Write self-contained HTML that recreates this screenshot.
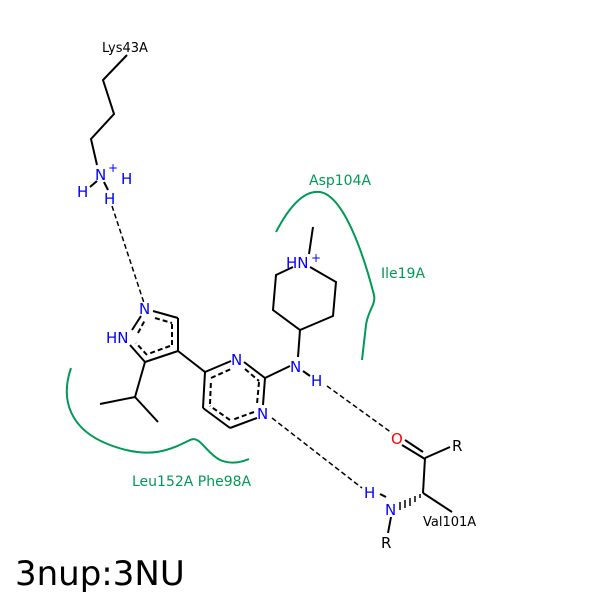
<!DOCTYPE html>
<html><head><style>body{margin:0;background:#fff}svg{display:block}text{font-family:"DejaVu Sans","Liberation Sans",sans-serif}</style></head>
<body>
<svg width="600" height="600" viewBox="0 0 600 600" xmlns="http://www.w3.org/2000/svg">
<rect width="600" height="600" fill="#fff"/>
<g fill="none" stroke="#009955" stroke-width="2">
<path d="M276,232 C290,205 305,190 320,192 C345,196 365,260 374,295 C376,305 368,310 366,325 L362,360"/>
<path d="M71,368 C60,400 70,430 110,445 C150,460 170,450 190,440 C200,435 205,452 220,460 C232,465 242,462 249,459"/>
</g>
<g stroke="#000" stroke-width="2" fill="none">
<polyline points="127,55 103,80 114,114 91,139 97,165"/>
<line x1="97" y1="181" x2="90" y2="187"/>
<line x1="104" y1="182" x2="108" y2="190"/>
<line x1="153" y1="311" x2="178" y2="318"/>
<line x1="178" y1="318" x2="178" y2="351"/>
<line x1="178" y1="351" x2="145" y2="362"/>
<line x1="145" y1="362" x2="130" y2="345"/>
<line x1="132" y1="330" x2="141" y2="316"/>
<g stroke-dasharray="5,3">
<line x1="155" y1="318" x2="172" y2="323"/>
<line x1="172" y1="324" x2="172" y2="346"/>
<line x1="170" y1="346" x2="148" y2="354"/>
<line x1="147" y1="355" x2="136" y2="343"/>
<line x1="138" y1="333" x2="145" y2="320"/>
</g>
<polyline points="145,362 135,397 100,404"/>
<line x1="135" y1="397" x2="158" y2="422"/>
<line x1="178" y1="351" x2="205" y2="372"/>
<line x1="205" y1="372" x2="231" y2="361"/>
<line x1="244" y1="362" x2="265" y2="378"/>
<line x1="265" y1="378" x2="263" y2="405"/>
<line x1="257" y1="418" x2="230" y2="428"/>
<line x1="230" y1="428" x2="203" y2="408"/>
<line x1="203" y1="408" x2="205" y2="372"/>
<g stroke-dasharray="5,3">
<line x1="211" y1="378" x2="231" y2="369"/>
<line x1="245" y1="369" x2="259" y2="381"/>
<line x1="259" y1="382" x2="257" y2="404"/>
<line x1="254" y1="412" x2="232" y2="420"/>
<line x1="230" y1="420" x2="210" y2="406"/>
<line x1="210" y1="404" x2="211" y2="380"/>
</g>
<line x1="265" y1="378" x2="290" y2="366"/>
<line x1="303" y1="371" x2="310" y2="376"/>
<line x1="298" y1="357" x2="300" y2="330"/>
<polyline points="310,267 336,282 333,316 300,330 273,310 276,275 293,267"/>
<line x1="309" y1="254" x2="313" y2="227"/>
<line x1="405" y1="440" x2="423" y2="452" />
<line x1="402" y1="445" x2="425" y2="459"/>
<line x1="425" y1="458" x2="450" y2="447"/>
<line x1="425" y1="458" x2="423" y2="493"/>
<line x1="423" y1="493" x2="452" y2="512"/>
<line x1="386" y1="497" x2="380" y2="494"/>
<line x1="391" y1="517" x2="388" y2="533"/>
</g>
<g stroke="#000" stroke-width="1.5">
<line x1="400" y1="502" x2="400" y2="510"/><line x1="405" y1="500" x2="405" y2="508"/><line x1="410" y1="498" x2="410" y2="506"/><line x1="415" y1="496" x2="415" y2="502"/><line x1="420" y1="494" x2="420" y2="498"/>
</g>
<g stroke="#000" stroke-width="1.5" stroke-dasharray="5,3" fill="none">
<line x1="112" y1="206" x2="144" y2="303"/>
<line x1="327" y1="386" x2="392" y2="433"/>
<line x1="272" y1="418" x2="362" y2="488"/>
</g>
<g font-size="15" fill="#0000ff">
<text x="95" y="180">N</text><text x="108" y="172" font-size="12">+</text>
<text x="77" y="197">H</text><text x="121" y="184">H</text><text x="104" y="204">H</text>
<text x="139" y="314">N</text><text x="106" y="343">HN</text>
<text x="231" y="365">N</text><text x="257" y="419">N</text>
<text x="290" y="372">N</text><text x="311" y="386">H</text>
<text x="286" y="268">HN</text><text x="311" y="262" font-size="12">+</text>
<text x="364" y="498">H</text><text x="385" y="515">N</text>
</g>
<text x="391" y="444" font-size="15" fill="#ff0000">O</text>
<g font-size="15" fill="#000">
<text x="452" y="451">R</text><text x="381" y="548">R</text>
</g>
<g font-size="13" fill="#000">
<text x="102" y="52">Lys43A</text>
<text x="423" y="526">Val101A</text>
</g>
<g font-size="14" fill="#009955">
<text x="309" y="185">Asp104A</text>
<text x="381" y="278">Ile19A</text>
<text x="132" y="486">Leu152A Phe98A</text>
</g>
<text x="15" y="585" font-size="34" fill="#000">3nup:3NU</text>
</svg>
</body></html>
